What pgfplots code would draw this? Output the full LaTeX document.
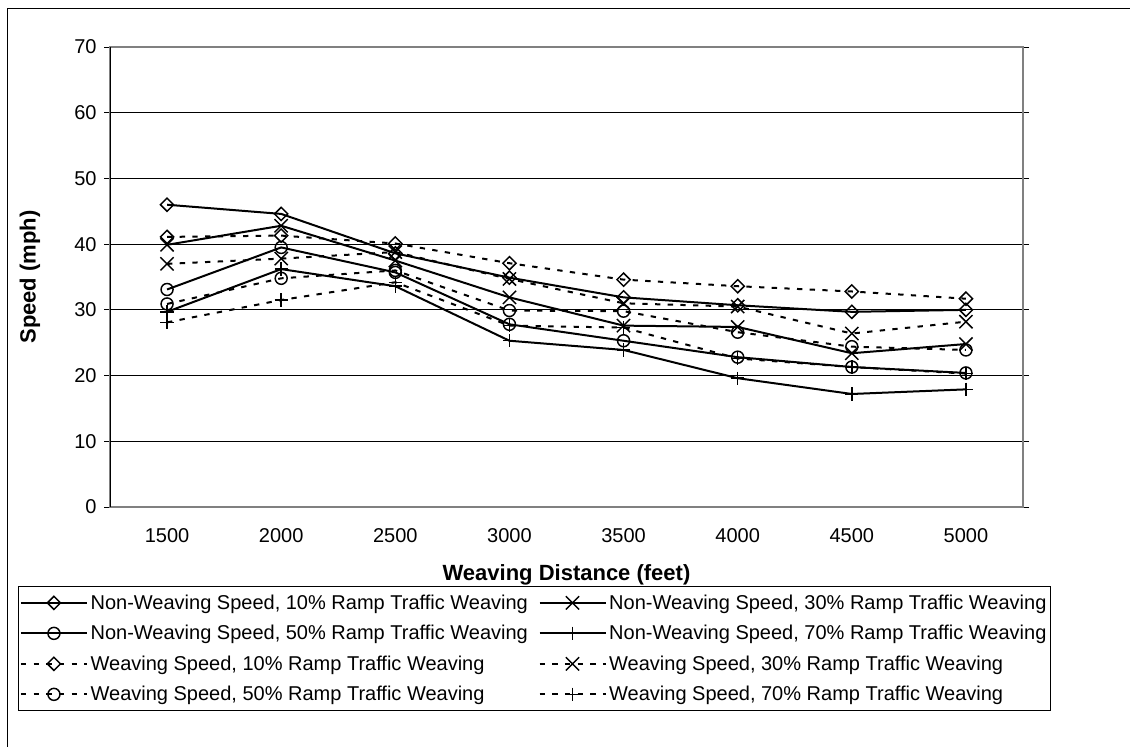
\documentclass[border=0pt]{standalone}
\usepackage{fontspec}
\setmainfont{Liberation Sans}
\usepackage{pgfplots}
\pgfplotsset{compat=1.18}
\usepackage{pgfplotstable}

% speed (mph) by weaving distance; x = 1..8 stands for 1500..5000 ft
\pgfplotstableread{
x  nw10 nw30 nw50 nw70 w10  w30  w50  w70
1  46.0 39.9 33.1 29.7 41.1 37.0 30.9 28.1
2  44.6 42.8 39.5 36.2 41.3 37.8 34.8 31.5
3  38.6 37.5 35.7 33.6 40.1 38.8 36.0 34.2
4  34.9 31.9 27.8 25.3 37.1 34.7 29.9 27.6
5  31.9 27.6 25.3 23.9 34.6 31.0 29.8 27.3
6  30.7 27.4 22.8 19.6 33.6 30.5 26.6 22.6
7  29.7 23.4 21.3 17.2 32.8 26.4 24.4 21.3
8  30.0 24.8 20.4 17.9 31.7 28.2 23.9 20.3
}\speeds

\begin{document}
\begin{tikzpicture}[x=0.75pt,y=0.75pt]
\useasboundingbox (0,0) rectangle (1130,746);
\draw[line width=0.75pt] (7,-20) -- (7,737) -- (1150,737);
\begin{axis}[
    at={(82.5pt,179.25pt)}, anchor=south west,
    width=684.75pt, height=345pt, scale only axis,
    font=\fontsize{15}{18}\selectfont,
    xmin=0.5, xmax=8.5, ymin=0, ymax=70,
    xtick={1,...,8},
    xticklabels={1500,2000,2500,3000,3500,4000,4500,5000},
    minor xtick={0.5,1.5,...,8.5},
    ytick={0,10,...,70},
    /pgf/number format/assume math mode=true,
    tick align=outside,
    major tick length=4.5pt, minor tick length=4.5pt,
    xtick style={draw=none},
    tick style={black, line width=0.75pt},
    ymajorgrids, major grid style={black, line width=0.75pt},
    axis line style={gray, line width=1.5pt},
    extra x ticks={0.5}, extra x tick labels={},
    extra x tick style={grid=major, major grid style={black, line width=0.75pt}},
    xticklabel style={yshift=-8pt},
    yticklabel style={xshift=-2pt},
    xlabel={\fontsize{16.5}{20}\selectfont\bfseries Weaving Distance (feet)},
    ylabel={\fontsize{16.5}{20}\selectfont\bfseries Speed (mph)},
    every axis x label/.style={at={(axis description cs:0.5,-0.148)}, anchor=center},
    every axis y label/.style={at={(axis description cs:-0.0876,0.5)}, rotate=90, anchor=center},
    every axis plot/.append style={black, line width=1.5pt},
    legend columns=2,
    legend cell align=left,
    legend image code/.code={
        \draw[mark repeat=2, mark phase=2, #1] plot coordinates {(0pt,0pt) (24.75pt,0pt) (49.5pt,0pt)};
    },
    legend style={at={(0.465,-0.172)}, anchor=north, draw=black, line width=0.75pt,
        inner xsep=1pt, inner ysep=4pt, row sep=6.5pt,
        /tikz/every even column/.append style={column sep=6pt}},
]
\addplot[mark=square, mark size=3.5pt, mark options={solid, rotate=45, line width=1.1pt}] table[x=x, y=nw10] {\speeds};
\addlegendentry{Non-Weaving Speed, 10\% Ramp Traffic Weaving}
\addplot[mark=x, mark size=7pt, mark options={solid, line width=1.1pt}] table[x=x, y=nw30] {\speeds};
\addlegendentry{Non-Weaving Speed, 30\% Ramp Traffic Weaving}
\addplot[mark=o, mark size=4.5pt, mark options={solid, line width=1.1pt}] table[x=x, y=nw50] {\speeds};
\addlegendentry{Non-Weaving Speed, 50\% Ramp Traffic Weaving}
\addplot[mark=+, mark size=5pt, mark options={solid, line width=1.1pt}] table[x=x, y=nw70] {\speeds};
\addlegendentry{Non-Weaving Speed, 70\% Ramp Traffic Weaving}
\addplot[dash pattern=on 4pt off 5.5pt, mark=square, mark size=3.5pt, mark options={solid, rotate=45, line width=1.1pt}] table[x=x, y=w10] {\speeds};
\addlegendentry{Weaving Speed, 10\% Ramp Traffic Weaving}
\addplot[dash pattern=on 4pt off 5.5pt, mark=x, mark size=7pt, mark options={solid, line width=1.1pt}] table[x=x, y=w30] {\speeds};
\addlegendentry{Weaving Speed, 30\% Ramp Traffic Weaving}
\addplot[dash pattern=on 4pt off 5.5pt, mark=o, mark size=4.5pt, mark options={solid, line width=1.1pt}] table[x=x, y=w50] {\speeds};
\addlegendentry{Weaving Speed, 50\% Ramp Traffic Weaving}
\addplot[dash pattern=on 4pt off 5.5pt, mark=+, mark size=5pt, mark options={solid, line width=1.1pt}] table[x=x, y=w70] {\speeds};
\addlegendentry{Weaving Speed, 70\% Ramp Traffic Weaving}
\end{axis}
\end{tikzpicture}
\end{document}
